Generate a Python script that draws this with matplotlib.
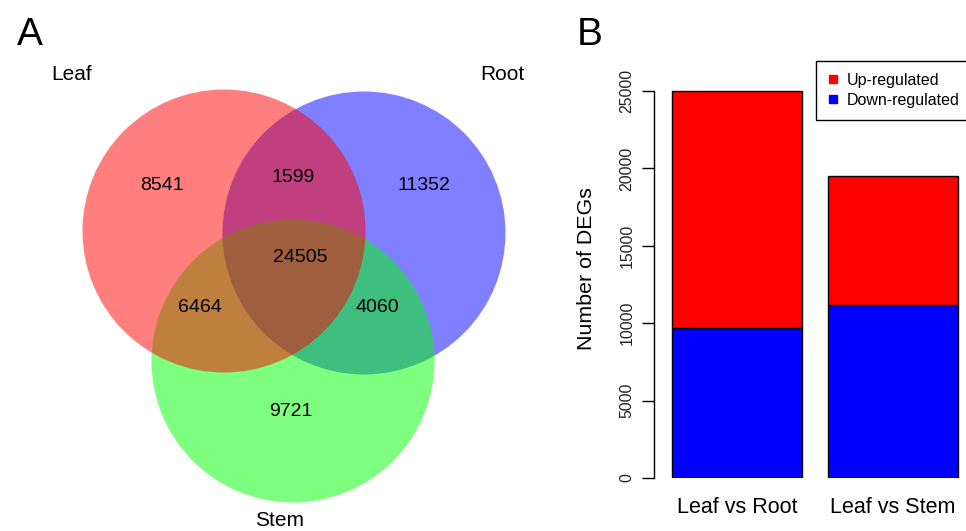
import matplotlib
matplotlib.use('Agg')
import matplotlib.pyplot as plt
from matplotlib.patches import Circle, Rectangle
from matplotlib.lines import Line2D

plt.rcParams['font.family'] = ['Liberation Sans', 'DejaVu Sans']

# Venn data (panel A)
set_names = ['Leaf', 'Root', 'Stem']
only_counts = [8541, 11352, 9721]          # Leaf only, Root only, Stem only
pair_counts = [1599, 6464, 4060]           # Leaf&Root, Leaf&Stem, Root&Stem
all_count = 24505

# bar data (panel B)
comparisons = ['Leaf vs Root', 'Leaf vs Stem']
down_reg = [9700, 11160]
up_reg = [15330, 8370]

W, H = 966, 531
fig = plt.figure(figsize=(W / 100, H / 100), dpi=100)

# ---- panel A: venn, drawn in pixel-like data units
ax = fig.add_axes([0, 0, 560 / W, 1])
ax.set_xlim(0, 560)
ax.set_ylim(H, 0)
ax.axis('off')

centers = {'Leaf': (224, 231), 'Root': (364, 233), 'Stem': (293, 361)}
colours = {'Leaf': '#FF0000', 'Root': '#0000FF', 'Stem': '#00FF00'}
radius = 141.5
# blue first, then green, then red on top
for name in ['Root', 'Stem', 'Leaf']:
    ax.add_patch(Circle(centers[name], radius, facecolor=colours[name],
                        edgecolor='none', alpha=0.5))

num_fs = 14
only_pos = [(162, 185), (424, 185), (291, 411)]
pair_pos = [(293, 177), (200, 308), (377, 308)]
for val, (x, y) in zip(only_counts, only_pos):
    ax.text(x, y, str(val), ha='center', va='center', fontsize=num_fs)
for val, (x, y) in zip(pair_counts, pair_pos):
    ax.text(x, y, str(val), ha='center', va='center', fontsize=num_fs)
ax.text(300, 257, str(all_count), ha='center', va='center', fontsize=num_fs)

name_pos = [(72, 75), (502, 75), (280, 520)]
for name, (x, y) in zip(set_names, name_pos):
    ax.text(x, y, name, ha='center', va='center', fontsize=15)

fig.text(30 / W, 1 - 35 / H, 'A', ha='center', va='center', fontsize=28)
fig.text(590 / W, 1 - 35 / H, 'B', ha='center', va='center', fontsize=28)

# ---- panel B: stacked bars
left_px, right_px = 654, 966
bottom_px, top_px = 478, 60
bx = fig.add_axes([left_px / W, 1 - bottom_px / H,
                   (right_px - left_px) / W, (bottom_px - top_px) / H])
xpos = [0.7, 1.9]
bx.bar(xpos, down_reg, width=1.0, color='#0000FF', edgecolor='black',
       linewidth=1.0)
bx.bar(xpos, up_reg, width=1.0, bottom=down_reg, color='#FF0000',
       edgecolor='black', linewidth=1.0)
bx.set_xlim(0.0615, 2.4615)
bx.set_ylim(0, (bottom_px - top_px) / 387 * 25000)
for s in ['top', 'right', 'bottom']:
    bx.spines[s].set_visible(False)
bx.spines['left'].set_bounds(0, 25000)
bx.spines['left'].set_linewidth(1.0)
bx.set_yticks([0, 5000, 10000, 15000, 20000, 25000])
bx.set_yticklabels(['0', '5000', '10000', '15000', '20000', '25000'],
                   rotation=90, va='center', fontsize=11.4, color='#222222')
bx.tick_params(axis='y', length=9, width=1.0, pad=5)
bx.set_xticks(xpos)
bx.set_xticklabels(comparisons, fontsize=15.5)
bx.tick_params(axis='x', length=0, pad=14)
bx.set_ylabel('Number of DEGs', fontsize=15.4, labelpad=17)
bx.patch.set_alpha(0)

# legend box runs past the right edge of the figure, as in the original
fig.patches.append(Rectangle((816 / W, 1 - 120 / H), 170 / W, 59 / H,
                             transform=fig.transFigure, facecolor='white',
                             edgecolor='black', linewidth=1.0, zorder=5))
handles = [Line2D([], [], marker='s', linestyle='none', color='#FF0000',
                  markersize=5.5),
           Line2D([], [], marker='s', linestyle='none', color='#0000FF',
                  markersize=5.5)]
leg = fig.legend(handles, ['Up-regulated', 'Down-regulated'],
                 loc='upper left', bbox_to_anchor=(816 / W, 1 - 61 / H),
                 fontsize=11.5, frameon=False,
                 handlelength=0.6, handletextpad=0.55, labelspacing=0.3,
                 borderpad=0.75, borderaxespad=0)
leg.set_zorder(6)

fig.savefig('out.png', dpi=100)
